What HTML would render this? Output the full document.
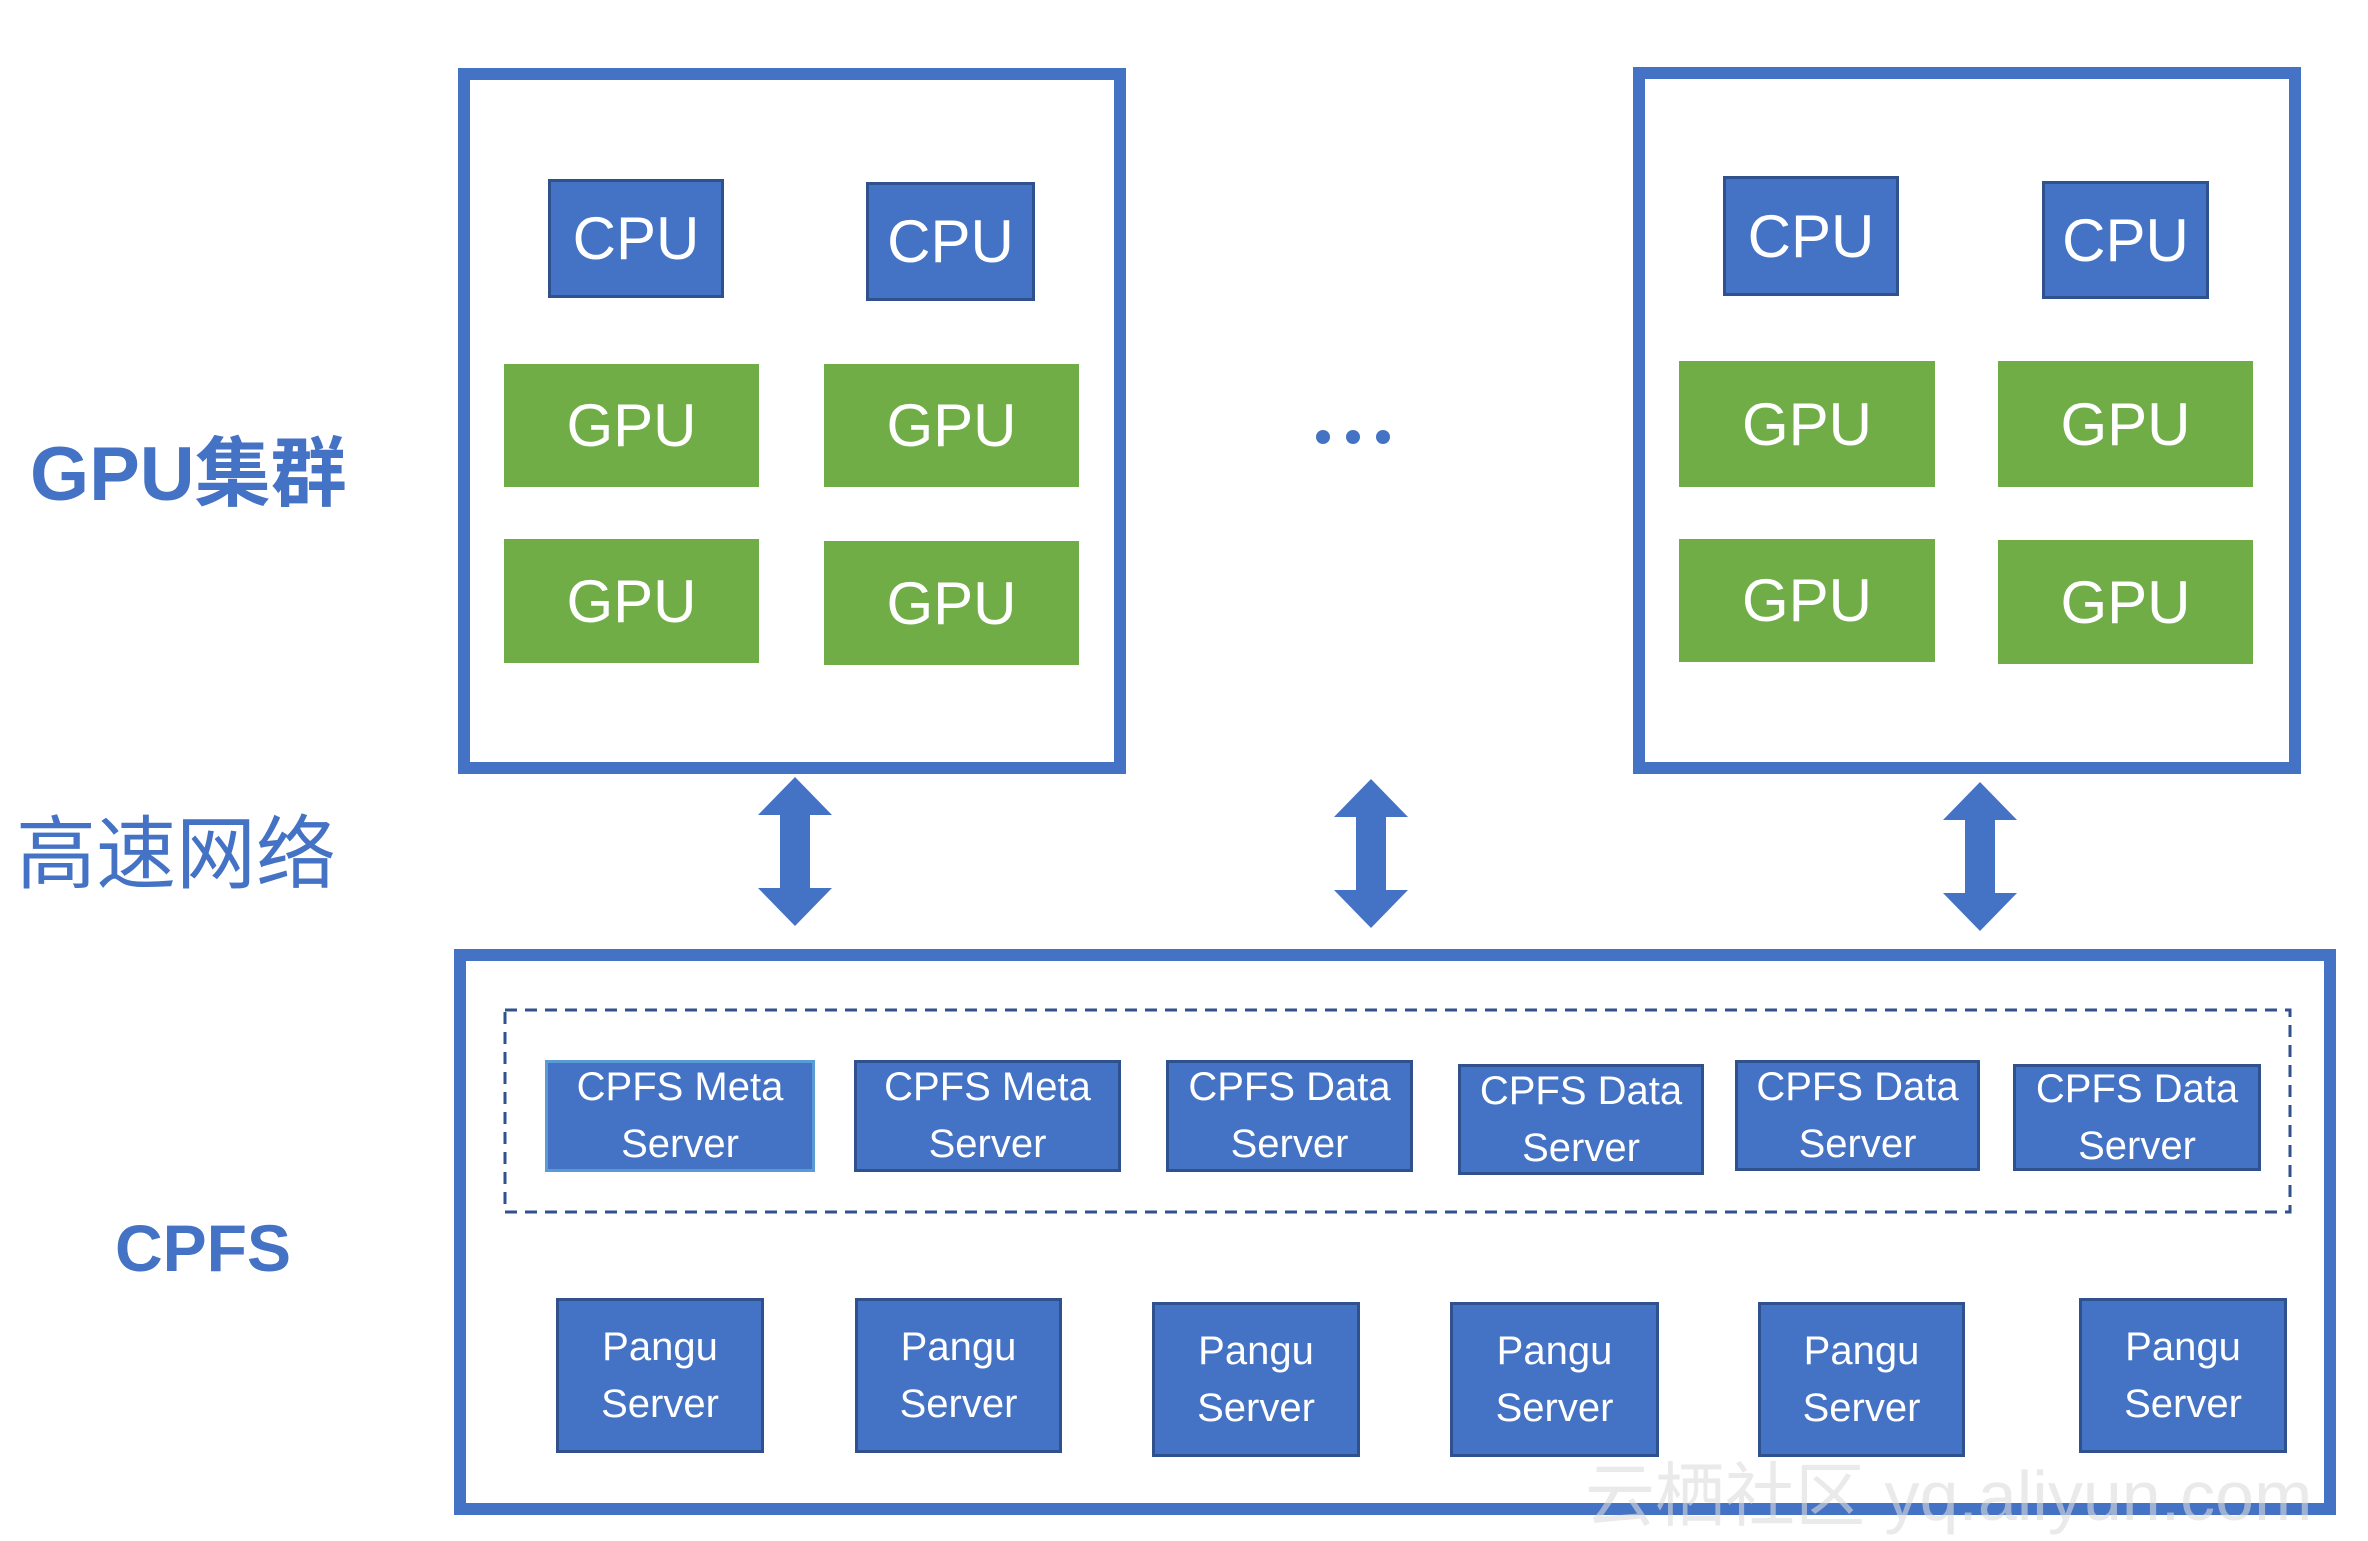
<!DOCTYPE html>
<html><head><meta charset="utf-8"><style>
body{margin:0;width:2368px;height:1528px;background:#fff;position:relative;overflow:hidden;font-family:"Liberation Sans","Noto Sans CJK SC",sans-serif}
.a{position:absolute;box-sizing:border-box}
.frame{border:12px solid #4472c4}
.b{background:#4472c4;border:3px solid #2f528f;color:#fff;display:flex;align-items:center;justify-content:center;text-align:center}
.cpu{font-size:60px}
.g{background:#70ad47;color:#fff;display:flex;align-items:center;justify-content:center;font-size:60px}
.s{font-size:40px;line-height:57px}
.lbl{color:#4472c4;font-weight:bold;white-space:nowrap}
</style></head><body>
<div class="a lbl" style="left:30px;top:425px;font-size:76px;line-height:100px">GPU集群</div>
<div class="a lbl" style="left:16px;top:805px;font-size:80px;line-height:100px;font-weight:normal">高速网络</div>
<div class="a lbl" style="left:115px;top:1200px;font-size:66px;line-height:96px">CPFS</div>

<div class="a frame" style="left:458px;top:68px;width:668px;height:706px"></div>
<div class="a frame" style="left:1633px;top:67px;width:668px;height:707px"></div>

<div class="a b cpu" style="left:548px;top:179px;width:176px;height:119px">CPU</div>
<div class="a b cpu" style="left:866px;top:182px;width:169px;height:119px">CPU</div>
<div class="a g" style="left:504px;top:364px;width:255px;height:123px">GPU</div>
<div class="a g" style="left:824px;top:364px;width:255px;height:123px">GPU</div>
<div class="a g" style="left:504px;top:539px;width:255px;height:124px">GPU</div>
<div class="a g" style="left:824px;top:541px;width:255px;height:124px">GPU</div>

<div class="a b cpu" style="left:1723px;top:176px;width:176px;height:120px">CPU</div>
<div class="a b cpu" style="left:2042px;top:181px;width:167px;height:118px">CPU</div>
<div class="a g" style="left:1679px;top:361px;width:256px;height:126px">GPU</div>
<div class="a g" style="left:1998px;top:361px;width:255px;height:126px">GPU</div>
<div class="a g" style="left:1679px;top:539px;width:256px;height:123px">GPU</div>
<div class="a g" style="left:1998px;top:540px;width:255px;height:124px">GPU</div>

<svg class="a" style="left:0;top:0" width="2368" height="1528">
<g fill="#4472c4">
<circle cx="1323" cy="437" r="7"/><circle cx="1353" cy="437" r="7"/><circle cx="1383" cy="437" r="7"/>
<polygon points="795,777 832,815 810,815 810,888 832,888 795,926 758,888 780,888 780,815 758,815"/>
<polygon points="1371,779 1408,817 1386,817 1386,890 1408,890 1371,928 1334,890 1356,890 1356,817 1334,817"/>
<polygon points="1980,782 2017,820 1995,820 1995,893 2017,893 1980,931 1943,893 1965,893 1965,820 1943,820"/>
</g>
<rect x="505" y="1010" width="1785" height="202" fill="none" stroke="#2f528f" stroke-width="3" stroke-dasharray="12,8"/>
</svg>

<div class="a frame" style="left:454px;top:949px;width:1882px;height:566px"></div>

<div class="a b s" style="left:545px;top:1060px;width:270px;height:112px;border-color:#5b9bd5">CPFS Meta<br>Server</div>
<div class="a b s" style="left:854px;top:1060px;width:267px;height:112px">CPFS Meta<br>Server</div>
<div class="a b s" style="left:1166px;top:1060px;width:247px;height:112px">CPFS Data<br>Server</div>
<div class="a b s" style="left:1458px;top:1064px;width:246px;height:111px">CPFS Data<br>Server</div>
<div class="a b s" style="left:1735px;top:1060px;width:245px;height:111px">CPFS Data<br>Server</div>
<div class="a b s" style="left:2013px;top:1064px;width:248px;height:107px">CPFS Data<br>Server</div>

<div class="a b s" style="left:556px;top:1298px;width:208px;height:155px">Pangu<br>Server</div>
<div class="a b s" style="left:855px;top:1298px;width:207px;height:155px">Pangu<br>Server</div>
<div class="a b s" style="left:1152px;top:1302px;width:208px;height:155px">Pangu<br>Server</div>
<div class="a b s" style="left:1450px;top:1302px;width:209px;height:155px">Pangu<br>Server</div>
<div class="a b s" style="left:1758px;top:1302px;width:207px;height:155px">Pangu<br>Server</div>
<div class="a b s" style="left:2079px;top:1298px;width:208px;height:155px">Pangu<br>Server</div>

<div class="a" style="left:1585px;top:1440px;font-size:70px;color:rgba(220,220,220,0.6);white-space:nowrap">云栖社区 yq.aliyun.com</div>
</body></html>
